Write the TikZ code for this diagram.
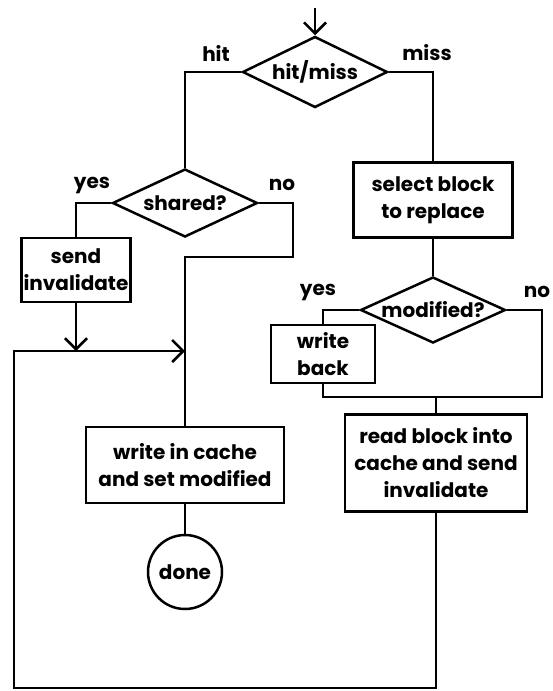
\documentclass[tikz,border=0pt]{standalone}
\usepackage{fontspec}
\setmainfont{Poppins}
\usetikzlibrary{shapes.geometric,arrows.meta}
\begin{document}
\begin{tikzpicture}[x=1pt,y=-1pt,line width=2.5pt,line cap=butt,line join=miter,>={Straight Barb[length=11pt,width=22pt]},font=\fontsize{20}{27}\selectfont\bfseries]
	\tikzset{hop/.style={draw,align=center,inner sep=0pt},
		thoi/.style={draw,diamond,inner sep=0pt,minimum width=145pt},
		nhan/.style={inner sep=0pt}}
	\useasboundingbox (0,0) rectangle (553,691);
	% cac diem gap khuc
	\coordinate (vao) at (185,351);
	\coordinate (ng) at (293,257);
	\coordinate (gn) at (542,397);
	\coordinate (goc) at (14,688);
	\coordinate (dau) at (315,8);
	% hinh thoi
	\node[thoi,minimum height=71pt,label=center:{hit/miss}] (hm) at (315,72) {};
	\node[thoi,minimum height=68pt,label=center:{shared?}] (sh) at (185,203) {};
	\node[thoi,minimum height=66pt,label=center:{modified?}] (mod) at (433,310) {};
	% hop
	\node[hop,minimum width=159pt,minimum height=75pt] (sel) at (433,200) {select block\\to replace};
	\node[hop,minimum width=109pt,minimum height=64pt] (snd) at (76,270) {send\\invalidate};
	\node[hop,minimum width=104pt,minimum height=58pt] (wb) at (323,354) {write\\back};
	\node[hop,minimum width=182pt,minimum height=97pt] (rd) at (436,463) {read block into\\cache and send\\invalidate};
	\node[hop,minimum width=198pt,minimum height=76pt] (wc) at (185,465) {write in cache\\and set modified};
	\node[draw,circle,inner sep=0pt,minimum size=74pt] (dn) at (185,572) {done};
	% nhan
	\foreach \n/\x/\y/\t in {lh/216/53/hit,lm/427/53/miss,sy/92/185/yes,sn/282/185/no,my/318/292/yes,mn/537/292/no}
		\node[nhan] (\n) at (\x,\y) {\t};
	% duong noi
	\draw[->] (dau)--(hm.north);
	\draw (hm.west) -| (sh.north);
	\draw (hm.east) -| (sel.north);
	\draw (sh.west) -| (snd.north);
	\draw (sh.east) -| (ng) -| (wc.north);
	\draw[->] (snd.south)--(snd.south |- vao);
	\draw (sel.south)--(mod.north);
	\draw (mod.west) -| (wb.north);
	\draw (mod.east) -| (gn) -| (wb.south);
	\draw (rd.north)--(rd.north |- gn);
	\draw (wc.south)--(dn.north);
	\draw[->] (rd.south) |- (goc) |- (vao);
\end{tikzpicture}
\end{document}
